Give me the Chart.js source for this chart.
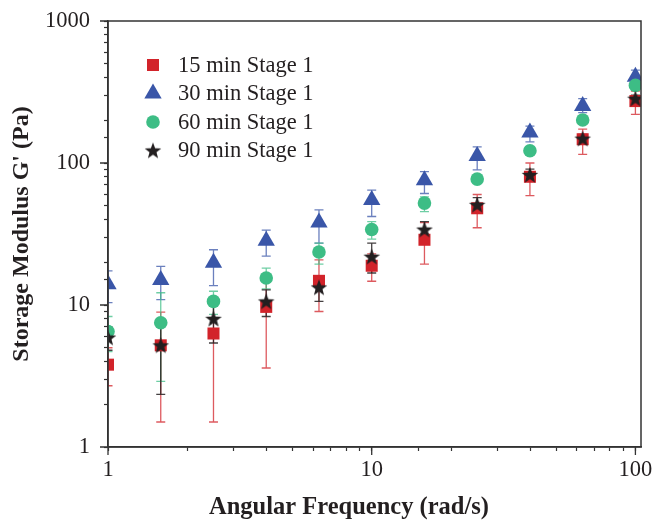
<!DOCTYPE html>
<html>
<head>
<meta charset="utf-8">
<script src="https://cdn.jsdelivr.net/npm/chart.js@4/dist/chart.umd.min.js"></script>
<style>
  html, body { margin: 0; padding: 0; background: #fff; }
  #wrap { width: 653px; height: 520px; }
</style>
</head>
<body>
<div id="wrap"><canvas id="chart" width="653" height="520"></canvas></div>
<script>
// Angular frequency sweep (rad/s)
const frequency = [1, 1.585, 2.512, 3.981, 6.31, 10, 15.85, 25.12, 39.81, 63.1, 100];
const seriesNames = ['15 min Stage 1', '30 min Stage 1', '60 min Stage 1', '90 min Stage 1'];

// Storage modulus G' (Pa) with upper / lower error limits
const g15   = [3.8, 5.2, 6.3, 9.7, 14.8, 18.9, 28.8, 48, 80, 147, 273];
const g15Hi = [5.0, 8.9, 11.0, 15.8, 20.8, 22.9, 38, 60, 100, 173, 321];
const g15Lo = [2.7, 1.5, 1.5, 3.6, 9.0, 14.7, 19.4, 35, 59, 115, 220];

const g30   = [14.0, 15.0, 19.8, 28.4, 38.1, 54.8, 75.7, 112, 164, 252, 405];
const g30Hi = [17.4, 18.7, 24.5, 33.7, 46.8, 64.4, 87, 130, 182, 284, 451];
const g30Lo = [10.4, 10.9, 13.7, 22.1, 27.3, 42.0, 61, 89.5, 141, 226, 370];

const g60   = [6.5, 7.5, 10.6, 15.5, 23.6, 34.0, 52.2, 77, 122, 201, 352];
const g60Hi = [8.3, 12.2, 12.5, 18.2, 27.3, 38.7, 57.8, 81, 126, 206, 365];
const g60Lo = [4.7, 2.9, 8.6, 13.0, 19.4, 29.1, 45.5, 73, 118, 196, 340];

const g90   = [5.9, 5.2, 8.0, 10.6, 13.3, 21.9, 34.0, 50.8, 82.5, 148.5, 284];
const g90Hi = [7.0, 7.9, 10.4, 12.8, 15.7, 27.3, 38.7, 57, 90.4, 159, 300];
const g90Lo = [4.8, 2.35, 5.4, 8.3, 10.6, 16.8, 31.5, 44.8, 75, 138, 268];

// Labelled (decade) ticks
const majorTicks = [1, 10, 100, 1000];
const xTitle = 'Angular Frequency (rad/s)';
const yTitle = "Storage Modulus G' (Pa)";

const SERIF = "'Liberation Serif', 'Times New Roman', serif";
const INK = '#231f20';
const RED = '#d2232a', BLUE = '#3a56a8', GREEN = '#3dbd85', BLACK = '#231f20';

// Filled five-point star marker
function makeStar(size, color) {
  const c = document.createElement('canvas');
  c.width = size; c.height = size;
  const g = c.getContext('2d');
  const cx = size / 2, cy = size / 2 + 0.6, R = size / 2 - 0.3, r = R * 0.42;
  g.beginPath();
  for (let i = 0; i < 10; i++) {
    const rad = (i % 2 === 0) ? R : r;
    const ang = -Math.PI / 2 + i * Math.PI / 5;
    const px = cx + rad * Math.cos(ang), py = cy + rad * Math.sin(ang);
    if (i === 0) g.moveTo(px, py); else g.lineTo(px, py);
  }
  g.closePath();
  g.fillStyle = color;
  g.fill();
  return c;
}
const starMarker = makeStar(18, BLACK);

const toPoints = vals => frequency.map((f, i) => ({ x: f, y: vals[i] }));

const errorSets = [
  { hi: g15Hi, lo: g15Lo, color: 'rgba(210,35,42,0.75)' },
  { hi: g30Hi, lo: g30Lo, color: 'rgba(58,86,168,0.75)' },
  { hi: g60Hi, lo: g60Lo, color: 'rgba(61,189,133,0.75)' },
  { hi: g90Hi, lo: g90Lo, color: 'rgba(35,31,32,0.85)' }
];

const markerStyles = [
  { pointStyle: 'rect', pointRadius: 8.5, color: RED },
  { pointStyle: 'triangle', pointRadius: 10, color: BLUE },
  { pointStyle: 'circle', pointRadius: 6.8, color: GREEN },
  { pointStyle: starMarker, pointRadius: 9, color: BLACK }
];

// Vertical error bars with caps, drawn through the chart scales
const errorBarPlugin = {
  id: 'errorBars',
  beforeDatasetsDraw(chart) {
    const { ctx, chartArea: a, scales: { x, y } } = chart;
    ctx.save();
    ctx.beginPath();
    ctx.rect(a.left, a.top, a.right - a.left, a.bottom - a.top);
    ctx.clip();
    ctx.lineWidth = 1.3;
    errorSets.forEach(set => {
      ctx.strokeStyle = set.color;
      frequency.forEach((f, i) => {
        const px = x.getPixelForValue(f);
        const top = y.getPixelForValue(set.hi[i]);
        const bot = y.getPixelForValue(set.lo[i]);
        ctx.beginPath();
        ctx.moveTo(px, top); ctx.lineTo(px, bot);
        ctx.moveTo(px - 4.5, top); ctx.lineTo(px + 4.5, top);
        ctx.moveTo(px - 4.5, bot); ctx.lineTo(px + 4.5, bot);
        ctx.stroke();
      });
    });
    ctx.restore();
  }
};

// Closed plot frame, longer decade tick marks and the x-axis title
const framePlugin = {
  id: 'frame',
  afterDatasetsDraw(chart) {
    const { ctx, chartArea: a, scales: { x, y } } = chart;
    ctx.save();
    ctx.strokeStyle = '#333';
    ctx.lineWidth = 1.5;
    ctx.strokeRect(a.left, a.top, a.right - a.left, a.bottom - a.top);
    ctx.lineWidth = 1.3;
    ctx.beginPath();
    majorTicks.forEach(v => {
      if (v <= x.max) {
        const px = x.getPixelForValue(v);
        ctx.moveTo(px, a.bottom); ctx.lineTo(px, a.bottom + 8);
      }
      if (v <= y.max) {
        const py = y.getPixelForValue(v);
        ctx.moveTo(a.left, py); ctx.lineTo(a.left - 8, py);
      }
    });
    ctx.stroke();
    ctx.fillStyle = INK;
    ctx.font = 'bold 24.5px ' + SERIF;
    ctx.textAlign = 'center';
    ctx.textBaseline = 'middle';
    ctx.fillText(xTitle, 349, 508);
    ctx.restore();
  }
};

// Legend inside the plot area
const legendPlugin = {
  id: 'insideLegend',
  afterDraw(chart) {
    const ctx = chart.ctx;
    const x0 = 153, textX = 178, y0 = 65, step = 28.5;
    ctx.save();
    ctx.font = '22.5px ' + SERIF;
    ctx.textBaseline = 'middle';
    ctx.textAlign = 'left';
    seriesNames.forEach((name, i) => {
      const m = markerStyles[i];
      const yy = y0 + i * step;
      ctx.fillStyle = m.color;
      ctx.strokeStyle = m.color;
      Chart.helpers.drawPoint(ctx, { pointStyle: m.pointStyle, radius: m.pointRadius, rotation: 0, borderWidth: 0 }, x0, yy);
      ctx.fillStyle = INK;
      ctx.fillText(name, textX, yy + 1);
    });
    ctx.restore();
  }
};

const datasets = [g15, g30, g60, g90].map((vals, i) => ({
  label: seriesNames[i],
  data: toPoints(vals),
  showLine: false,
  pointStyle: markerStyles[i].pointStyle,
  pointRadius: markerStyles[i].pointRadius,
  pointHoverRadius: markerStyles[i].pointRadius,
  backgroundColor: markerStyles[i].color,
  borderColor: markerStyles[i].color,
  borderWidth: 0,
  order: 4 - i
}));

const tickLabel = v => majorTicks.includes(v) ? String(v) : '';

new Chart(document.getElementById('chart'), {
  type: 'scatter',
  data: { datasets },
  plugins: [errorBarPlugin, framePlugin, legendPlugin],
  options: {
    responsive: false,
    animation: false,
    devicePixelRatio: 1,
    events: [],
    layout: { padding: { top: 21, right: 12, left: 0, bottom: 0 } },
    plugins: { legend: { display: false }, tooltip: { enabled: false } },
    scales: {
      x: {
        type: 'logarithmic',
        min: 1,
        max: 105,
        afterBuildTicks: s => { s.ticks = s.ticks.filter(t => t.value <= 100); },
        afterFit: s => { s.height = 73; s.paddingLeft = 0; s.paddingRight = 0; },
        border: { display: true, color: '#333', width: 1.5 },
        grid: { drawOnChartArea: false, drawTicks: true, tickLength: 4, color: '#333', tickWidth: 1.2 },
        ticks: {
          autoSkip: false, maxRotation: 0, padding: 6,
          callback: tickLabel,
          color: INK,
          font: { family: SERIF, size: 22.5 }
        },
        title: { display: false }
      },
      y: {
        type: 'logarithmic',
        min: 1,
        max: 1000,
        afterFit: s => { s.width = 108; s.paddingTop = 0; s.paddingBottom = 0; },
        border: { display: true, color: '#333', width: 1.5 },
        grid: { drawOnChartArea: false, drawTicks: true, tickLength: 4, color: '#333', tickWidth: 1.2 },
        ticks: {
          autoSkip: false, padding: 14,
          callback: tickLabel,
          color: INK,
          font: { family: SERIF, size: 22.5 }
        },
        title: {
          display: true,
          text: yTitle,
          color: INK,
          padding: { top: 10, bottom: 0 },
          font: { family: SERIF, size: 24, weight: 'bold', lineHeight: 1.0 }
        }
      }
    }
  }
});
</script>
</body>
</html>
